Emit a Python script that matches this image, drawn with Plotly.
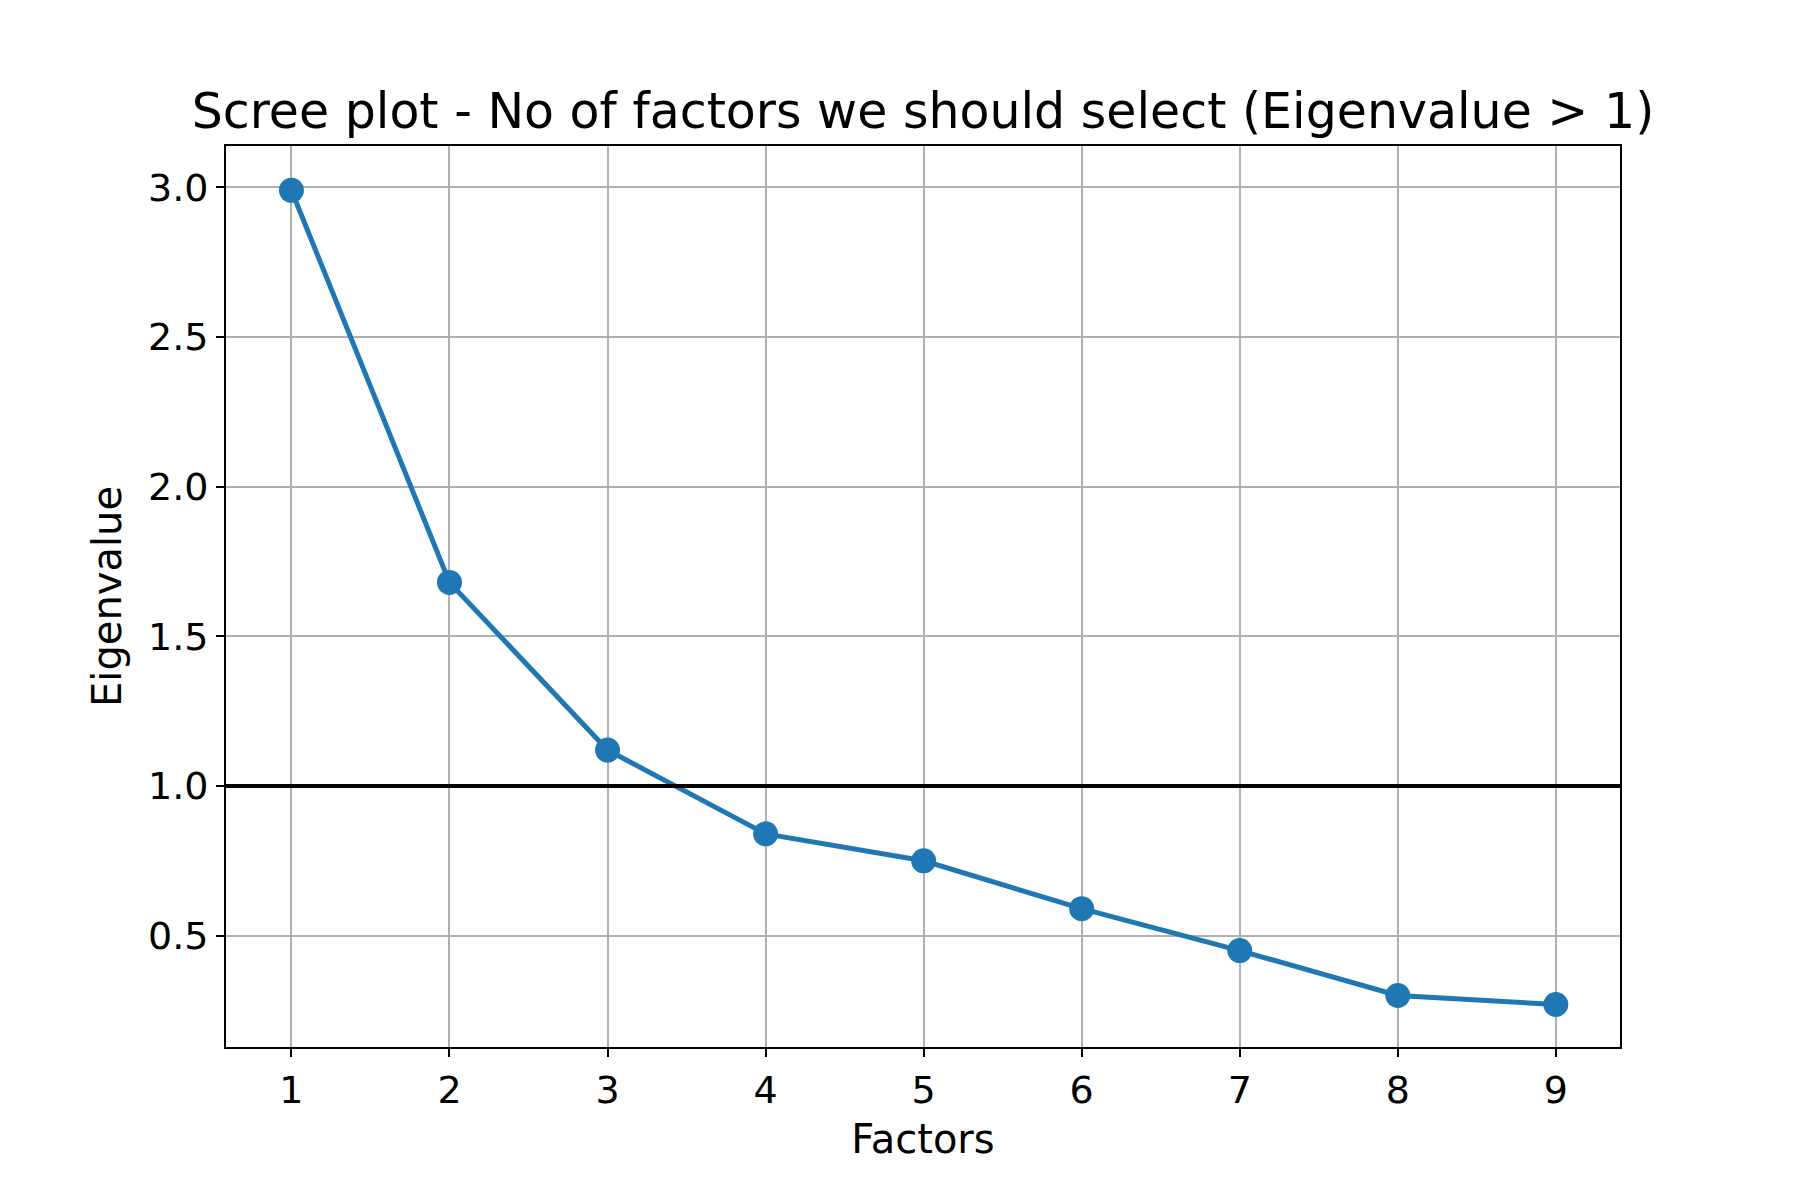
import plotly.graph_objects as go

factors = [1, 2, 3, 4, 5, 6, 7, 8, 9]
eigenvalues = [2.99, 1.68, 1.12, 0.84, 0.75, 0.59, 0.45, 0.30, 0.27]
threshold = 1.0

fig = go.Figure()
fig.add_trace(go.Scatter(x=factors, y=eigenvalues, mode="lines+markers",
                         line=dict(color="#1f77b4", width=5),
                         marker=dict(color="#1f77b4", size=25)))
fig.add_hline(y=threshold, line=dict(color="black", width=4), layer="above")

axis = dict(showgrid=True, gridcolor="#b0b0b0", gridwidth=2, zeroline=False,
            showline=True, linecolor="black", linewidth=2, mirror=True,
            ticks="outside", ticklen=8, tickwidth=2, tickcolor="black",
            tickfont=dict(size=38, color="black"))
fig.update_xaxes(axis, range=[0.586, 9.406], tickvals=factors,
                 title=dict(text="Factors", font=dict(size=40, color="black"), standoff=14))
fig.update_yaxes(axis, range=[0.128, 3.138], tickvals=[0.5, 1.0, 1.5, 2.0, 2.5, 3.0],
                 ticktext=["0.5", "1.0", "1.5", "2.0", "2.5", "3.0"],
                 title=dict(text="Eigenvalue", font=dict(size=40, color="black"), standoff=14))
fig.update_layout(
    width=1800, height=1200, showlegend=False,
    font=dict(family="DejaVu Sans", color="black"),
    title=dict(text="Scree plot - No of factors we should select (Eigenvalue > 1)",
               xref="paper", x=0.5, xanchor="center",
               yref="container", y=0.914, yanchor="middle", font=dict(size=49)),
    plot_bgcolor="white", paper_bgcolor="white",
    margin=dict(l=218, r=188, t=138, b=161),
)
fig.write_html("out.html")
